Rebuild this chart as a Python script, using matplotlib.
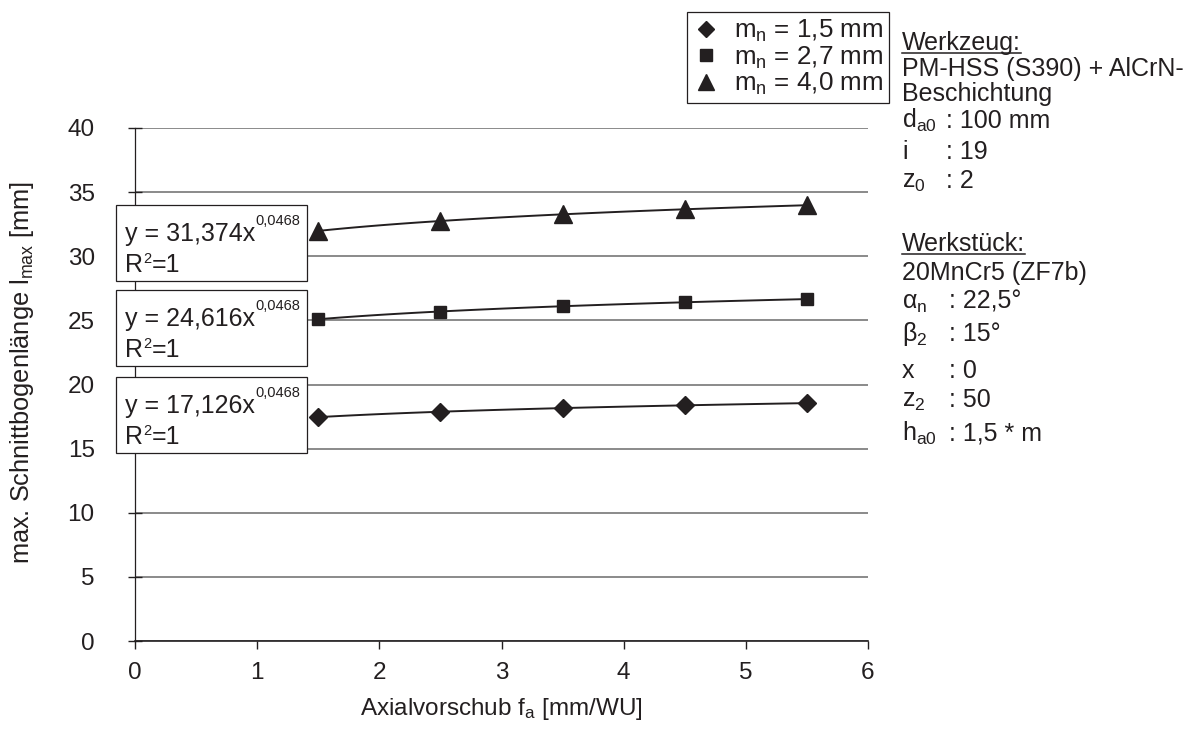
import matplotlib
matplotlib.use("Agg")
import matplotlib.pyplot as plt
from matplotlib.lines import Line2D
from matplotlib.patches import Rectangle
import numpy as np

plt.rcParams['font.family'] = ['Liberation Sans', 'DejaVu Sans']
plt.rcParams['mathtext.fontset'] = 'custom'
plt.rcParams['mathtext.rm'] = 'Liberation Sans'
plt.rcParams['mathtext.it'] = 'Liberation Sans:italic'
plt.rcParams['mathtext.bf'] = 'Liberation Sans:bold'

# ---------------- data ----------------
feed = [1.5, 2.5, 3.5, 4.5, 5.5]
l_max_m15 = [17.45, 17.88, 18.16, 18.37, 18.55]
l_max_m27 = [25.09, 25.69, 26.10, 26.41, 26.66]
l_max_m40 = [31.98, 32.75, 33.27, 33.66, 33.98]
series_labels = ["m$_\\mathregular{n}$ = 1,5 mm",
                 "m$_\\mathregular{n}$ = 2,7 mm",
                 "m$_\\mathregular{n}$ = 4,0 mm"]
fit_coef = [17.126, 24.616, 31.374]
fit_coef_text = ["17,126", "24,616", "31,374"]
fit_exp = 0.0468
fit_exp_text = "0,0468"
x_ticks = [0, 1, 2, 3, 4, 5, 6]
y_ticks = [0, 5, 10, 15, 20, 25, 30, 35, 40]

W, H = 1191, 729
INK = '#231f20'
FS_AX = 17.5
FS_TX = 18
FS_SUP = 10.5
fig = plt.figure(figsize=(W / 100, H / 100), dpi=100)
renderer = fig.canvas.get_renderer()

def fx(px):
    return px / W

def fy(py):
    return 1 - py / H

ax = fig.add_axes([fx(135), fy(641), fx(868) - fx(135), fy(128) - fy(641)])
ax.set_xlim(0, 6)
ax.set_ylim(0, 40)
ax.set_xticks(x_ticks)
ax.set_yticks(y_ticks)
ax.tick_params(axis='both', labelsize=FS_AX, colors=INK)
ax.tick_params(axis='x', direction='out', length=6, width=1, pad=9)
ax.tick_params(axis='y', direction='inout', length=10, width=1, pad=24)
ax.spines['top'].set_visible(False)
ax.spines['right'].set_visible(False)
ax.spines['left'].set_color(INK)
ax.spines['left'].set_linewidth(0.9)
ax.spines['bottom'].set_color(INK)
ax.spines['bottom'].set_linewidth(1.2)
ax.yaxis.grid(True, color='#8a8a8a', linewidth=1.4)
ax.set_axisbelow(True)

ax.set_xlabel("Axialvorschub f$_\\mathregular{a}$ [mm/WU]", fontsize=FS_AX, color=INK,
              va='baseline')
ax.xaxis.set_label_coords(0.5, -(715 - 641) / 513)
ax.set_ylabel("max. Schnittbogenlänge l$_\\mathregular{max}$ [mm]", fontsize=18.3, color=INK,
              va='center')
ax.yaxis.set_label_coords(-(135 - 22) / 733, (641 - 372) / 513)

markers = ['D', 's', '^']
msizes = [9, 9, 12.5]
series = [l_max_m15, l_max_m27, l_max_m40]
handles = []
for vals, coef, mk, ms, lab in zip(series, fit_coef, markers, msizes, series_labels):
    xs = np.linspace(feed[0], feed[-1], 100)
    ax.plot(xs, coef * xs ** fit_exp, color=INK, lw=1.4, zorder=3)
    ax.plot(feed, vals, linestyle='none', marker=mk, ms=ms,
            color=INK, mec=INK, zorder=4, label=lab, clip_on=False)
    handles.append(Line2D([], [], linestyle='none', marker=mk, ms=ms * 0.9,
                          color=INK, mec=INK))

leg = fig.legend(handles, series_labels, loc='upper left',
                 bbox_to_anchor=(fx(687), fy(12)), borderaxespad=0,
                 fontsize=18.7, frameon=True, fancybox=False, framealpha=1,
                 edgecolor=INK, handlelength=1.0, handletextpad=0.6,
                 labelspacing=0.02, borderpad=0.22)
leg.get_frame().set_linewidth(0.9)
for t in leg.get_texts():
    t.set_color(INK)


def text_with_sup(x_px, base_px, main, sup, tail, sup_rise, z=6):
    t = fig.text(fx(x_px), fy(base_px), main, fontsize=FS_TX, color=INK,
                 va='baseline', ha='left', zorder=z)
    bb = t.get_window_extent(renderer=renderer)
    s = fig.text(bb.x1 / W + fx(0.5), fy(base_px - sup_rise), sup, fontsize=FS_SUP,
                 color=INK, va='baseline', ha='left', zorder=z)
    if tail:
        sb = s.get_window_extent(renderer=renderer)
        fig.text(sb.x1 / W + fx(0.5), fy(base_px), tail, fontsize=FS_TX, color=INK,
                 va='baseline', ha='left', zorder=z)


# equation boxes
box_tops = [205, 290, 377]
order = [2, 1, 0]
for top, idx in zip(box_tops, order):
    rect = Rectangle((fx(116), fy(top + 76)), fx(307) - fx(116), fy(top) - fy(top + 76),
                     transform=fig.transFigure, facecolor='white',
                     edgecolor=INK, linewidth=0.9, zorder=5)
    fig.add_artist(rect)
    text_with_sup(125, top + 36, "y = " + fit_coef_text[idx] + "x", fit_exp_text, "", 16)
    text_with_sup(125, top + 67, "R", "2", "=1", 9)

# right-side annotation
tx = 902
vx = 946
underlined = []
t = fig.text(fx(tx), fy(50), "Werkzeug:", fontsize=FS_TX, color=INK, va='baseline')
underlined.append((t, 50))
fig.text(fx(tx), fy(76), "PM-HSS (S390) + AlCrN-", fontsize=FS_TX, color=INK, va='baseline')
fig.text(fx(tx), fy(101), "Beschichtung", fontsize=FS_TX, color=INK, va='baseline')
tool_params = [("d$_\\mathregular{a0}$", ": 100 mm", 128),
               ("i", ": 19", 159),
               ("z$_\\mathregular{0}$", ": 2", 188)]
for lab, val, py in tool_params:
    fig.text(fx(tx), fy(py), lab, fontsize=FS_TX, color=INK, va='baseline')
    fig.text(fx(vx), fy(py), val, fontsize=FS_TX, color=INK, va='baseline')

t = fig.text(fx(tx), fy(251), "Werkstück:", fontsize=FS_TX, color=INK, va='baseline')
underlined.append((t, 251))
fig.text(fx(tx), fy(280), "20MnCr5 (ZF7b)", fontsize=FS_TX, color=INK, va='baseline')
work_params = [("α$_\\mathregular{n}$", ": 22,5°", 309),
               ("β$_\\mathregular{2}$", ": 15°", 341),
               ("x", ": 0", 378),
               ("z$_\\mathregular{2}$", ": 50", 407),
               ("h$_\\mathregular{a0}$", ": 1,5 * m", 441)]
for lab, val, py in work_params:
    fig.text(fx(tx), fy(py), lab, fontsize=FS_TX, color=INK, va='baseline')
    fig.text(fx(vx + 3), fy(py), val, fontsize=FS_TX, color=INK, va='baseline')

for t, py in underlined:
    bb = t.get_window_extent(renderer=renderer)
    fig.add_artist(Line2D([bb.x0 / W, bb.x1 / W], [fy(py + 3), fy(py + 3)],
                          transform=fig.transFigure, color=INK, lw=1.1))

fig.savefig("out.png", dpi=100)
